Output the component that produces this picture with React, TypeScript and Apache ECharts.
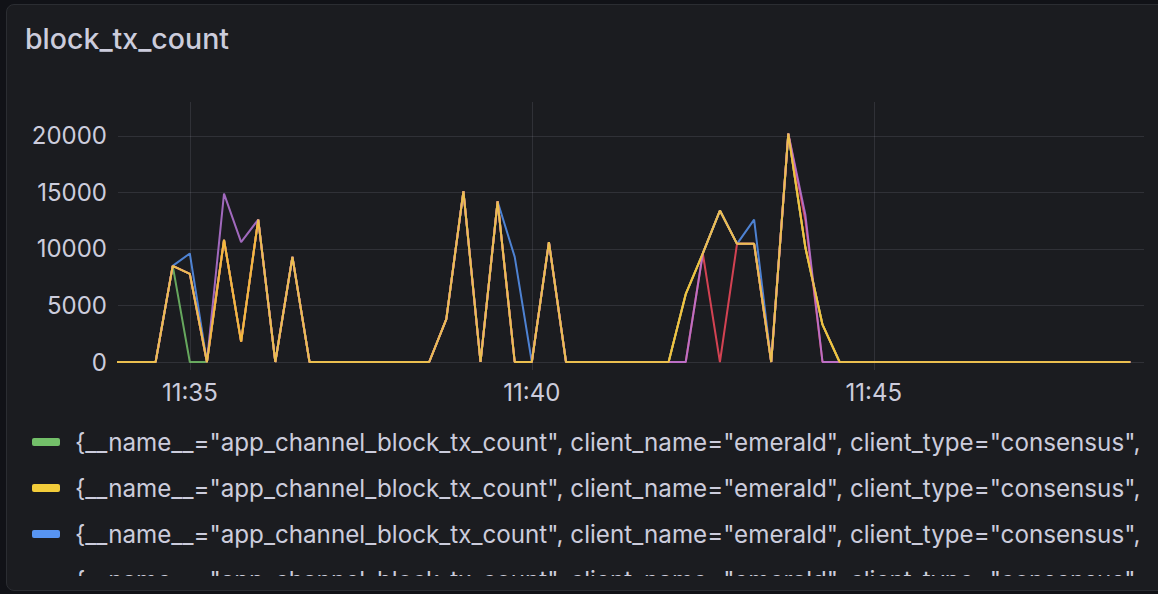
import React, { useEffect, useRef } from 'react';
import * as echarts from 'echarts';

const TITLE = 'block_tx_count';
const LEGEND_TEXT =
  '{__name__="app_channel_block_tx_count", client_name="emerald", client_type="consensus",';

// time stamps of the samples (15 s scrape)
const TIMES = [
  '11:33:45', '11:34:00', '11:34:15', '11:34:30', '11:34:45', '11:35:00', '11:35:15', '11:35:30',
  '11:35:45', '11:36:00', '11:36:15', '11:36:30', '11:36:45', '11:37:00', '11:37:15', '11:37:30',
  '11:37:45', '11:38:00', '11:38:15', '11:38:30', '11:38:45', '11:39:00', '11:39:15', '11:39:30',
  '11:39:45', '11:40:00', '11:40:15', '11:40:30', '11:40:45', '11:41:00', '11:41:15', '11:41:30',
  '11:41:45', '11:42:00', '11:42:15', '11:42:30', '11:42:45', '11:43:00', '11:43:15', '11:43:30',
  '11:43:45', '11:44:00', '11:44:15', '11:44:30', '11:44:45', '11:45:00', '11:45:15', '11:45:30',
  '11:45:45', '11:46:00', '11:46:15', '11:46:30', '11:46:45', '11:47:00', '11:47:15', '11:47:30',
  '11:47:45', '11:48:00', '11:48:15', '11:48:30', '11:48:45',
];
const TIME_RANGE = ['11:33:57', '11:48:57'];
const X_TICKS = ['11:35', '11:40', '11:45'];
const Y_TICKS = [0, 5000, 10000, 15000, 20000];
const Y_MAX = 23000;

const SERIES_KEYS = ['green', 'yellow', 'blue', 'orange', 'red', 'purple'];
const COLORS = ['#73BF69', '#F2CC3A', '#5794F2', '#FF9830', '#F2495C', '#B877D9'];

const GREEN = [
  0, 0, 0, 0, 8500, 0, 0, 10800, 1800, 12600, 0, 9300, 0, 0, 0, 0,
  0, 0, 0, 0, 3800, 15100, 0, 14200, 0, 0, 10600, 0, 0, 0, 0, 0,
  0, 0, 6000, 9600, 13400, 10450, 10450, 0, 20200, 10100, 3300, 0, 0, 0, 0, 0,
  0, 0, 0, 0, 0, 0, 0, 0, 0, 0, 0, 0, 0,
];
const YELLOW = [
  0, 0, 0, 0, 8500, 7800, 0, 10800, 1800, 12600, 0, 9300, 0, 0, 0, 0,
  0, 0, 0, 0, 3800, 15100, 0, 14200, 0, 0, 10600, 0, 0, 0, 0, 0,
  0, 0, 6000, 9600, 13400, 10450, 10450, 0, 20200, 10100, 3300, 0, 0, 0, 0, 0,
  0, 0, 0, 0, 0, 0, 0, 0, 0, 0, 0, 0, 0,
];
const BLUE = [
  0, 0, 0, 0, 8500, 9600, 0, 10800, 1800, 12600, 0, 9300, 0, 0, 0, 0,
  0, 0, 0, 0, 3800, 15100, 0, 14200, 9300, 0, 10600, 0, 0, 0, 0, 0,
  0, 0, 6000, 9600, 13400, 10450, 12600, 0, 20200, 10100, 3300, 0, 0, 0, 0, 0,
  0, 0, 0, 0, 0, 0, 0, 0, 0, 0, 0, 0, 0,
];
const ORANGE = [
  0, 0, 0, 0, 8500, 7800, 0, 10800, 1800, 12600, 0, 9300, 0, 0, 0, 0,
  0, 0, 0, 0, 3800, 15100, 0, 14200, 0, 0, 10600, 0, 0, 0, 0, 0,
  0, 0, 6000, 9600, 13400, 10450, 10450, 0, 20200, 10100, 3300, 0, 0, 0, 0, 0,
  0, 0, 0, 0, 0, 0, 0, 0, 0, 0, 0, 0, 0,
];
const RED = [
  0, 0, 0, 0, 8500, 7800, 0, 10800, 1800, 12600, 0, 9300, 0, 0, 0, 0,
  0, 0, 0, 0, 3800, 15100, 0, 14200, 0, 0, 10600, 0, 0, 0, 0, 0,
  0, 0, 0, 9600, 0, 10450, 10450, 0, 20200, 12500, 0, 0, 0, 0, 0, 0,
  0, 0, 0, 0, 0, 0, 0, 0, 0, 0, 0, 0, 0,
];
const PURPLE = [
  0, 0, 0, 0, 8500, 7800, 0, 14900, 10600, 12600, 0, 9300, 0, 0, 0, 0,
  0, 0, 0, 0, 3800, 15100, 0, 14200, 0, 0, 10600, 0, 0, 0, 0, 0,
  0, 0, 0, 9600, 13400, 10450, 10450, 0, 20200, 13000, 0, 0, 0, 0, 0, 0,
  0, 0, 0, 0, 0, 0, 0, 0, 0, 0, 0, 0, 0,
];
const VALUES = [GREEN, YELLOW, BLUE, ORANGE, RED, PURPLE];
const Z_ORDER = [2, 9, 3, 4, 5, 6];

const TEXT = '#ccccdc';
const GRID = 'rgba(204,204,220,0.12)';
const FONT = 'Inter, "Noto Sans", sans-serif';

function toSec(s: string): number {
  const p = s.split(':').map(Number);
  return p[0] * 3600 + p[1] * 60 + (p[2] || 0);
}
function fmtHM(v: number): string {
  const h = Math.floor(v / 3600);
  const m = Math.floor((v % 3600) / 60);
  return `${h}:${String(m).padStart(2, '0')}`;
}

export default function App() {
  const ref = useRef<HTMLDivElement>(null);
  useEffect(() => {
    if (!ref.current) return;
    const chart = echarts.init(ref.current, undefined, { renderer: 'svg' });
    const xs = TIMES.map(toSec);
    chart.setOption({
      animation: false,
      backgroundColor: 'transparent',
      title: {
        text: TITLE,
        left: 25,
        top: 24,
        padding: 0,
        textStyle: { color: TEXT, fontSize: 28.5, fontWeight: 500, fontFamily: FONT },
      },
      grid: { left: 118, top: 102, width: 1026, height: 260, containLabel: false },
      xAxis: {
        type: 'value',
        min: toSec(TIME_RANGE[0]),
        max: toSec(TIME_RANGE[1]),
        axisLine: { show: false },
        axisTick: {
          show: true,
          length: 8,
          lineStyle: { color: GRID, width: 1 },
          customValues: X_TICKS.map(toSec),
        },
        axisLabel: {
          customValues: X_TICKS.map(toSec),
          formatter: (v: number) => fmtHM(v),
          color: TEXT,
          fontSize: 24,
          fontFamily: FONT,
          margin: 18,
        },
        splitLine: { show: true, lineStyle: { color: GRID, width: 1 } },
      },
      yAxis: {
        type: 'value',
        min: 0,
        max: Y_MAX,
        axisLine: { show: false },
        axisTick: { show: false, customValues: Y_TICKS },
        axisLabel: {
          customValues: Y_TICKS,
          formatter: (v: number) => String(v),
          color: TEXT,
          fontSize: 24,
          fontFamily: FONT,
          margin: 11,
        },
        splitLine: { show: true, lineStyle: { color: GRID, width: 1 } },
      },
      legend: {
        orient: 'vertical',
        left: 32,
        top: 429,
        height: 400,
        padding: 0,
        icon: 'roundRect',
        itemWidth: 28,
        itemHeight: 8,
        itemGap: 20,
        selectedMode: false,
        data: SERIES_KEYS,
        formatter: () => LEGEND_TEXT,
        textStyle: {
          color: TEXT,
          fontSize: 24.2,
          fontFamily: FONT,
          lineHeight: 26,
          padding: [0, 0, 0, 10],
        },
      },
      series: SERIES_KEYS.map((key, i) => ({
        name: key,
        type: 'line',
        z: Z_ORDER[i],
        data: xs.map((x, j) => [x, VALUES[i][j]]),
        showSymbol: false,
        symbol: 'none',
        clip: true,
        color: COLORS[i],
        itemStyle: { color: COLORS[i] },
        lineStyle: { color: COLORS[i], width: 2, opacity: 0.85 },
      })),
    });
    return () => chart.dispose();
  }, []);

  return (
    <div
      style={{
        position: 'fixed',
        left: 0,
        top: 0,
        width: 1158,
        height: 594,
        background: '#111217',
        overflow: 'hidden',
      }}
    >
      <div
        style={{
          position: 'absolute',
          left: 6,
          top: 4,
          width: 1180,
          height: 587,
          background: '#1b1c20',
          border: '1px solid #2b2d32',
          borderRadius: 8,
          boxSizing: 'border-box',
        }}
      />
      <div
        ref={ref}
        style={{ position: 'absolute', left: 0, top: 0, width: 1158, height: 576 }}
      />
    </div>
  );
}
